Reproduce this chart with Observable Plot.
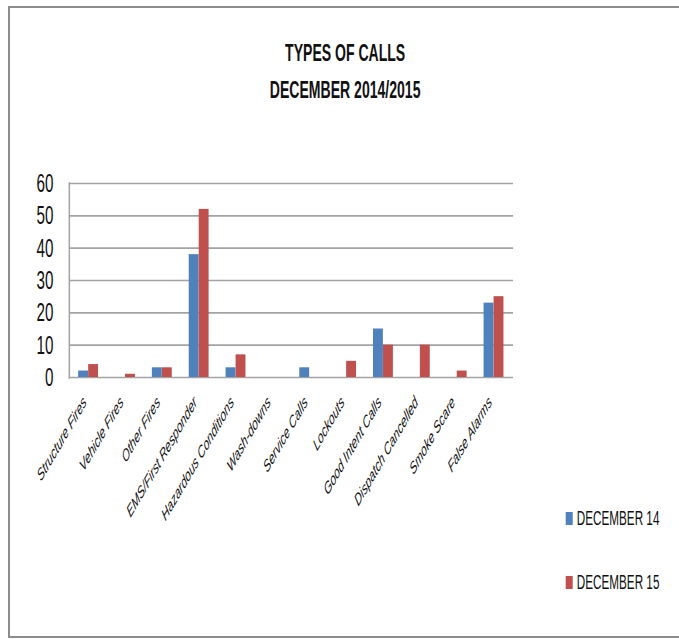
<!DOCTYPE html>
<html>
<head>
<meta charset="utf-8">
<script src="https://cdn.jsdelivr.net/npm/d3@7"></script>
<script src="https://cdn.jsdelivr.net/npm/@observablehq/plot@0.6"></script>
<style>
  html, body { margin: 0; padding: 0; background: #fff; }
  #page { position: relative; width: 679px; height: 639px; overflow: hidden; background: #fff;
          font-family: 'Liberation Sans', Arial, sans-serif; color: #111; }
  #frame { position: absolute; left: 8px; top: 6px; width: 700px; height: 628px; border: 2px solid #8c8c8c; border-right: none; }
  /* the reference is an Excel chart squeezed horizontally; draw wide, then squeeze */
  #wide { position: absolute; left: 0; top: 0; width: 1161px; height: 639px; transform: scaleX(0.585); transform-origin: 0 0; }
  #chart { position: absolute; left: 0; top: 0; }
  .title { position: absolute; left: 290px; width: 600px; text-align: center; font-weight: bold; font-size: 24px; white-space: nowrap; }
  .leg { position: absolute; left: 967px; font-size: 20px; white-space: nowrap; display: flex; align-items: center; }
  .sw { display: inline-block; width: 12px; height: 13px; margin-right: 7px; }
</style>
</head>
<body>
<div id="page">
  <div id="frame"></div>
  <div id="wide">
    <div id="chart"></div>
    <div class="title" id="t1" style="top:39px"></div>
    <div class="title" id="t2" style="top:76px"></div>
    <div id="legend"></div>
  </div>
</div>
<script>
const titleLines = ["TYPES OF CALLS", "DECEMBER 2014/2015"];
const categories = ["Structure Fires", "Vehicle Fires", "Other Fires", "EMS/First Responder",
  "Hazardous Conditions", "Wash-downs", "Service Calls", "Lockouts", "Good Intent Calls",
  "Dispatch Cancelled", "Smoke Scare", "False Alarms"];
const seriesNames = ["DECEMBER 14", "DECEMBER 15"];
const dec14 = [2, 0, 3, 38, 3, 0, 3, 0, 15, 0, 0, 23];
const dec15 = [4, 1, 3, 52, 7, 0, 0, 5, 10, 10, 2, 25];
const yTicks = [0, 10, 20, 30, 40, 50, 60];

const FONT = "'Liberation Sans', Arial, sans-serif";
const colors = ["#4f81bd", "#c0504d"];

const rows = categories.flatMap((c, i) => [
  {category: c, series: seriesNames[0], value: dec14[i]},
  {category: c, series: seriesNames[1], value: dec15[i]}
]);

document.getElementById("t1").textContent = titleLines[0];
document.getElementById("t2").textContent = titleLines[1];

const chart = Plot.plot({
  width: 1161,
  height: 639,
  marginLeft: 118,
  marginRight: 284,
  marginTop: 183,
  marginBottom: 262,
  style: {fontFamily: FONT, color: "#111", background: "transparent"},
  x: {domain: categories, padding: 0, axis: null},
  y: {domain: [0, 60], axis: null},
  color: {domain: seriesNames, range: colors},
  marks: [
    Plot.gridY(yTicks, {stroke: "#a3a3a3", strokeOpacity: 1, strokeWidth: 1.6}),
    Plot.frame({anchor: "left", stroke: "#a3a3a3", strokeWidth: 2.6}),
    Plot.barY(rows, {filter: d => d.series === seriesNames[0], x: "category", y: "value", fill: "series", insetLeft: 13.6, insetRight: 32.5}),
    Plot.barY(rows, {filter: d => d.series === seriesNames[1], x: "category", y: "value", fill: "series", insetLeft: 30.7, insetRight: 15.4}),
    Plot.axisY(yTicks, {tickSize: 0, tickPadding: 27, fontSize: 26, label: null}),
    Plot.axisX({tickSize: 0, tickPadding: 16, dx: -7, dy: 6, tickRotate: -45, fontSize: 17, fontStyle: "italic", label: null})
  ]
});
document.getElementById("chart").appendChild(chart);

const legend = document.getElementById("legend");
const legTops = [507, 571];
seriesNames.forEach((s, i) => {
  const d = document.createElement("div");
  d.className = "leg";
  d.style.top = legTops[i] + "px";
  d.innerHTML = `<span class="sw" style="background:${colors[i]}"></span><span>${s}</span>`;
  legend.appendChild(d);
});
</script>
</body>
</html>
